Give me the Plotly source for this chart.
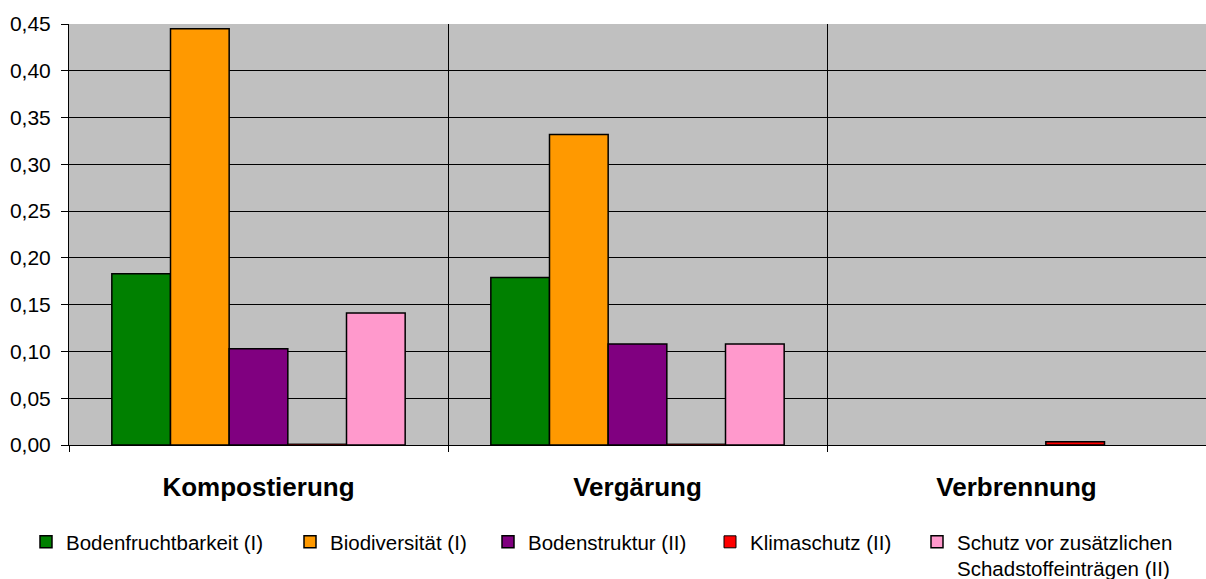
import plotly.graph_objects as go

categories = ["Kompostierung", "Vergärung", "Verbrennung"]
series_names = [
    "Bodenfruchtbarkeit (I)",
    "Biodiversität (I)",
    "Bodenstruktur (II)",
    "Klimaschutz (II)",
    "Schutz vor zusätzlichen<br>Schadstoffeinträgen (II)",
]
bodenfruchtbarkeit = [0.183, 0.179, 0.0]
biodiversitaet = [0.445, 0.332, 0.0]
bodenstruktur = [0.103, 0.108, 0.0]
klimaschutz = [0.001, 0.001, 0.0035]
schadstoff = [0.141, 0.108, 0.0]
series_values = [bodenfruchtbarkeit, biodiversitaet, bodenstruktur, klimaschutz, schadstoff]
colors = ["#008000", "#FF9900", "#800080", "#FF0000", "#FF99CC"]
y_ticks = [0.0, 0.05, 0.10, 0.15, 0.20, 0.25, 0.30, 0.35, 0.40, 0.45]

FONT = "Arial, Liberation Sans, sans-serif"
W, H = 1206, 579
L, R, T, B = 69, 0, 24, 134

fig = go.Figure()
legend_ids = ["legend", "legend2", "legend3", "legend4", "legend5"]
for name, vals, col, lg in zip(series_names, series_values, colors, legend_ids):
    fig.add_trace(go.Bar(
        x=categories, y=vals, name=name, legend=lg,
        marker=dict(color=col,
                    line=dict(color="black",
                              width=[1.5 if v > 0.002 else (1 if v > 0 else 0) for v in vals])),
    ))

# legend placement: pixel x where each entry's text should start, and top of the row
legend_text_px = [64, 328, 526, 748, 955]
legend_top_px = 522
pw = W - L - R
ph = H - T - B
layout_legends = {}
for lg, tx in zip(legend_ids, legend_text_px):
    layout_legends[lg] = dict(
        x=(tx - 38 - L) / pw, y=(H - B - legend_top_px) / ph,
        xanchor="left", yanchor="top", orientation="v",
        bgcolor="rgba(0,0,0,0)", borderwidth=0, valign="top",
        font=dict(family=FONT, size=20.5, color="black"),
        itemclick=False, itemdoubleclick=False,
    )

fig.update_layout(
    width=W, height=H,
    margin=dict(l=L, r=R, t=T, b=B, pad=0, autoexpand=False),
    paper_bgcolor="white",
    plot_bgcolor="#C0C0C0",
    barmode="group",
    bargap=0.226,
    bargroupgap=0,
    separators=", ",
    showlegend=True,
    font=dict(family=FONT, color="black"),
    **layout_legends,
)
fig.update_xaxes(
    type="category",
    tickson="boundaries",
    showgrid=True, gridcolor="black", gridwidth=1,
    showline=True, linecolor="black", linewidth=1,
    ticks="outside", ticklen=6, tickcolor="black",
    tickfont=dict(family=FONT, size=26, color="black", weight="bold"),
    ticklabelstandoff=19,
    range=[-0.5, 2.5],
    automargin=False,
)
fig.update_yaxes(
    range=[0, 0.45],
    tickvals=y_ticks,
    tickformat=".2f",
    showgrid=True, gridcolor="black", gridwidth=1,
    zeroline=False,
    showline=True, linecolor="black", linewidth=1,
    ticks="outside", ticklen=7, tickcolor="black",
    tickfont=dict(family=FONT, size=21, color="black"),
    ticklabelstandoff=6,
    automargin=False,
)

fig.write_html(
    "out.html",
    config={"displayModeBar": False},
    post_script="document.body.style.margin='0';document.body.style.overflow='hidden';",
)
